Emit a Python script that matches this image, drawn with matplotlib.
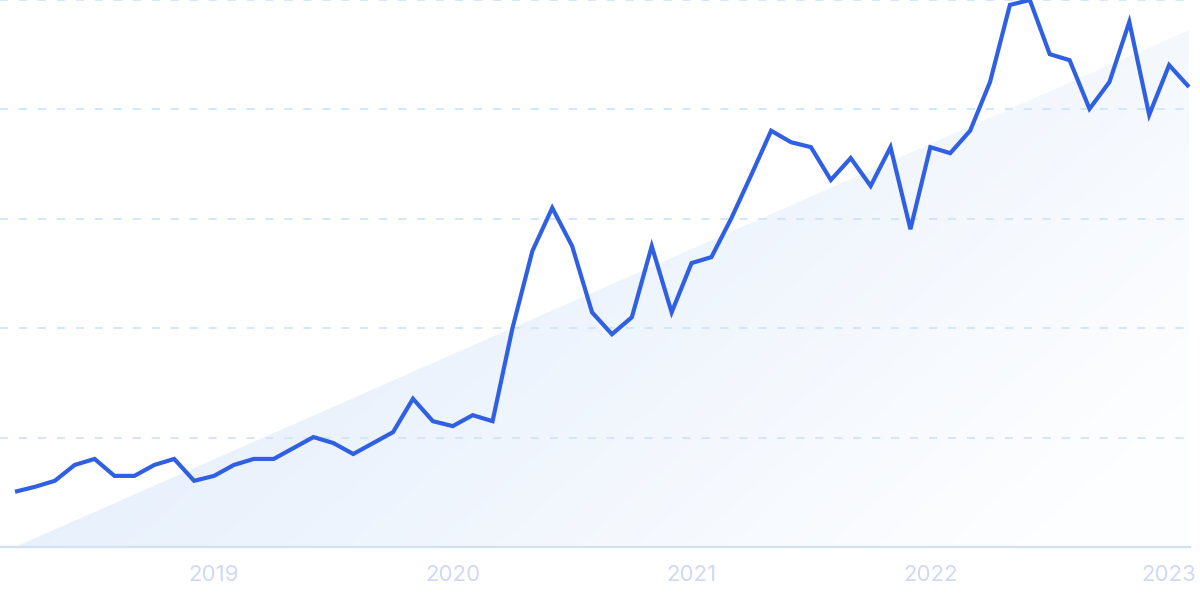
import matplotlib
matplotlib.use("Agg")
import matplotlib.pyplot as plt
import numpy as np
from matplotlib.patches import Polygon
from matplotlib.colors import LinearSegmentedColormap

# Monthly interest values, Mar 2018 .. Feb 2023 (0-100 scale)
values = [10.1, 11.0, 12.1, 15.0, 16.1, 13.0, 13.0, 15.0, 16.1, 12.1,
          13.0, 15.0, 16.1, 16.1, 18.1, 20.1, 19.0, 17.0, 19.0, 21.0,
          27.1, 23.0, 22.1, 24.1, 23.0, 40.0, 54.1, 62.0, 55.0, 42.9,
          38.9, 42.0, 55.0, 42.9, 51.9, 53.0, 60.1, 68.0, 76.1, 74.0,
          73.1, 67.1, 71.1, 66.0, 73.1, 58.1, 73.1, 72.0, 76.1, 85.0,
          99.1, 100.0, 90.1, 89.0, 80.1, 85.0, 96.0, 79.0, 88.1, 84.1]
tick_positions = [10, 22, 34, 46, 58]
tick_labels = ["2019", "2020", "2021", "2022", "2023"]
trend_start = 0.0
trend_end = 94.5
grid_levels = [20, 40, 60, 80, 100]

x = np.arange(len(values))

fig = plt.figure(figsize=(12, 5.99), dpi=100)
ax = fig.add_axes([0, (599-547)/599, 1190/1200, 547/599])
ax.set_xlim(-15/19.898, len(values) - 1 + 1/19.898)
ax.set_ylim(0, 100)

# gradient-filled trend triangle
tri = Polygon([[x[0], trend_start], [x[-1], trend_end], [x[-1], 0]],
              closed=True, facecolor="none", edgecolor="none")
ax.add_patch(tri)
gx, gy = np.meshgrid(np.linspace(0, 1, 300), np.linspace(0, 1, 150))
t = np.clip(0.72 * gx + 0.38 * gy, 0, 1)
cmap = LinearSegmentedColormap.from_list("g", ["#dce9fa", "#ecf3fd", "#fdfeff"])
im = ax.imshow(t, cmap=cmap, vmin=0, vmax=1, aspect="auto",
               extent=[x[0], x[-1], 0, 100], origin="upper", zorder=1)
im.set_clip_path(tri)

# gridlines
for g in grid_levels:
    ax.axhline(g, color="#d2e3fa", lw=1.3, dashes=(4.5, 6), zorder=2, clip_on=False)
ax.axhline(0, color="#d0e2f8", lw=1.6, zorder=2, clip_on=False)

ax.plot(x, values, color="#2f5fe3", lw=3, solid_joinstyle="miter",
        solid_capstyle="butt", zorder=3, clip_on=False)

for s in ax.spines.values():
    s.set_visible(False)
ax.set_yticks([])
ax.set_xticks(tick_positions)
ax.set_xticklabels(tick_labels, fontsize=16, color="#cfd9f5", family="Inter")
ax.tick_params(axis="x", length=0, pad=13)

fig.savefig("out.png", dpi=100, facecolor="white")
